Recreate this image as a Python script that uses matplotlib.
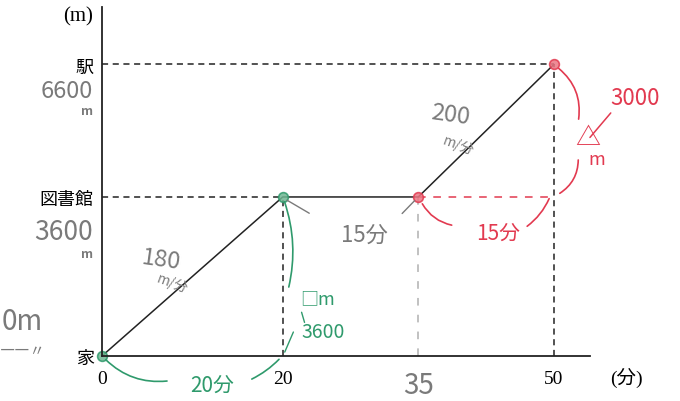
import matplotlib
matplotlib.use("Agg")
import matplotlib.pyplot as plt

plt.rcParams['font.family'] = ['Noto Sans CJK JP', 'DejaVu Sans']

# route: time (分) and distance (m)
minutes = [0, 20, 35, 50]
distance = [0, 3600, 3600, 6600]
x_tick_labels = ["0", "20", "35", "50"]
y_ticks = [0, 3600, 6600]
y_tick_labels = ["家", "図書館", "駅"]
hand_y = ["3600", "6600"]

black = "#222222"
gray = "#7a7a7a"
green = "#2f9a6c"
red = "#e23a50"
serif = ['Liberation Serif', 'Noto Sans CJK JP']

fig = plt.figure(figsize=(6.8, 4.02), dpi=100)
ax = fig.add_axes([0.15, 0.112, 0.7176, 0.868])
ax.set_xlim(0, 54)
ax.set_ylim(0, 7900)

for s in ["top", "right"]:
    ax.spines[s].set_visible(False)
for s in ["left", "bottom"]:
    ax.spines[s].set_linewidth(1.3)
    ax.spines[s].set_color(black)

# guide lines
ax.plot([0, minutes[3]], [distance[3]] * 2, color=black, lw=1.1, ls=(0, (4, 3)))
ax.plot([0, minutes[1]], [distance[1]] * 2, color=black, lw=1.1, ls=(0, (4, 3)))
ax.plot([minutes[1]] * 2, [0, distance[1]], color=black, lw=1.1, ls=(0, (4, 3)))
ax.plot([minutes[3]] * 2, [0, distance[3]], color=black, lw=1.1, ls=(0, (4, 3)))
ax.plot([minutes[2]] * 2, [0, distance[2]], color="#b0b0b0", lw=1.1, ls=(0, (5, 6)))
ax.plot([minutes[2], minutes[3]], [distance[2]] * 2, color=red, lw=1.1, ls=(0, (5, 5)))

# the route
ax.plot(minutes, distance, color=black, lw=1.1)
ax.plot(minutes[:2], distance[:2], "o", ms=7, mfc="#6fb793", mec=green, mew=1.2,
        alpha=0.85, clip_on=False)
ax.plot(minutes[2:], distance[2:], "o", ms=7, mfc="#ec7784", mec=red, mew=1.2,
        alpha=0.85, clip_on=False)

# ticks
ax.set_xticks(minutes)
ax.set_xticklabels(x_tick_labels)
ax.tick_params(axis="x", length=0, pad=10)
for i, lab in enumerate(ax.get_xticklabels()):
    if x_tick_labels[i] == "35":
        lab.set_color(gray)
        lab.set_fontsize(20)
        lab.set_family(['Noto Sans CJK JP'])
    else:
        lab.set_family(serif)
        lab.set_fontsize(14)
ax.set_yticks(y_ticks)
ax.set_yticklabels(y_tick_labels, fontsize=13)
ax.tick_params(axis="y", length=0, pad=6)

ax.text(-1.0, 7700, "(m)", family=serif, fontsize=15, ha="right", va="center")
ax.text(56.2, -480, "(分)", family=serif, fontsize=14, ha="left", va="center",
        clip_on=False)

# handwritten gray notes
ax.text(-1.0, 6000, hand_y[1], color=gray, fontsize=17, ha="right", va="center",
        style="italic")
ax.text(-1.0, 5550, "m", color=gray, fontsize=9, ha="right", va="center",
        weight="bold")
ax.text(-1.0, 2820, hand_y[0], color=gray, fontsize=19, ha="right", va="center")
ax.text(-1.0, 2330, "m", color=gray, fontsize=9, ha="right", va="center",
        weight="bold")
fig.text(0.002, 0.2, "0m", color=gray, fontsize=20, ha="left", va="center",
         style="italic")
fig.text(0.0, 0.125, "――〃", color=gray, fontsize=11, ha="left", va="center")

ax.text(6.5, 2200, "180", color=gray, fontsize=17, ha="center", va="center", rotation=-8)
ax.text(7.8, 1650, "m/分", color=gray, fontsize=10, ha="center", va="center", rotation=-20)
ax.text(38.5, 5480, "200", color=gray, fontsize=17, ha="center", va="center", rotation=-8)
ax.text(39.4, 4780, "m/分", color=gray, fontsize=10, ha="center", va="center", rotation=-20)
ax.text(29.0, 2750, "15分", color=gray, fontsize=16, ha="center", va="center")
ax.annotate("", xy=(23.2, 3200), xytext=(20.2, 3560),
            arrowprops=dict(arrowstyle="-", color=gray, lw=1))
ax.annotate("", xy=(33.0, 3180), xytext=(34.8, 3560),
            arrowprops=dict(arrowstyle="-", color=gray, lw=1))

# green notes
ax.annotate("", xy=(20.6, 1500), xytext=(20.1, 3550),
            arrowprops=dict(arrowstyle="-", color=green, lw=1.2,
                            connectionstyle="arc3,rad=-0.15"))
ax.text(23.8, 1300, "□m", color=green, fontsize=13, ha="center", va="center")
ax.annotate("", xy=(22.5, 700), xytext=(22.0, 1050),
            arrowprops=dict(arrowstyle="-", color=green, lw=1))
ax.text(24.5, 550, "3600", color=green, fontsize=14, ha="center", va="center")
ax.annotate("", xy=(21.3, 600), xytext=(20.1, 30),
            arrowprops=dict(arrowstyle="-", color=green, lw=1))
ax.text(12.2, -650, "20分", color=green, fontsize=15, ha="center", va="center",
        clip_on=False)
ax.annotate("", xy=(7.5, -560), xytext=(0.2, -40),
            arrowprops=dict(arrowstyle="-", color=green, lw=1.2,
                            connectionstyle="arc3,rad=0.25"), annotation_clip=False)
ax.annotate("", xy=(19.8, -30), xytext=(16.3, -550),
            arrowprops=dict(arrowstyle="-", color=green, lw=1.2,
                            connectionstyle="arc3,rad=0.1"), annotation_clip=False)

# red notes
ax.annotate("", xy=(39.0, 2950), xytext=(35.3, 3500),
            arrowprops=dict(arrowstyle="-", color=red, lw=1.2,
                            connectionstyle="arc3,rad=0.25"))
ax.text(43.8, 2800, "15分", color=red, fontsize=15, ha="center", va="center")
ax.annotate("", xy=(49.6, 3620), xytext=(46.8, 2900),
            arrowprops=dict(arrowstyle="-", color=red, lw=1.2,
                            connectionstyle="arc3,rad=0.15"))
ax.annotate("", xy=(52.7, 5300), xytext=(50.3, 6550),
            arrowprops=dict(arrowstyle="-", color=red, lw=1.2,
                            connectionstyle="arc3,rad=-0.3"), annotation_clip=False)
ax.annotate("", xy=(50.4, 3650), xytext=(52.7, 4500),
            arrowprops=dict(arrowstyle="-", color=red, lw=1.2,
                            connectionstyle="arc3,rad=-0.3"), annotation_clip=False)
ax.text(59.0, 5850, "3000", color=red, fontsize=16, ha="center", va="center",
        clip_on=False)
ax.text(53.8, 4950, "△", color=red, fontsize=18, ha="center", va="center",
        clip_on=False)
ax.annotate("", xy=(53.8, 4900), xytext=(56.5, 5550),
            arrowprops=dict(arrowstyle="-", color=red, lw=1.1), annotation_clip=False)
ax.text(54.8, 4450, "m", color=red, fontsize=13, ha="center", va="center",
        clip_on=False)

fig.savefig("out.png", dpi=100)
plt.close(fig)
